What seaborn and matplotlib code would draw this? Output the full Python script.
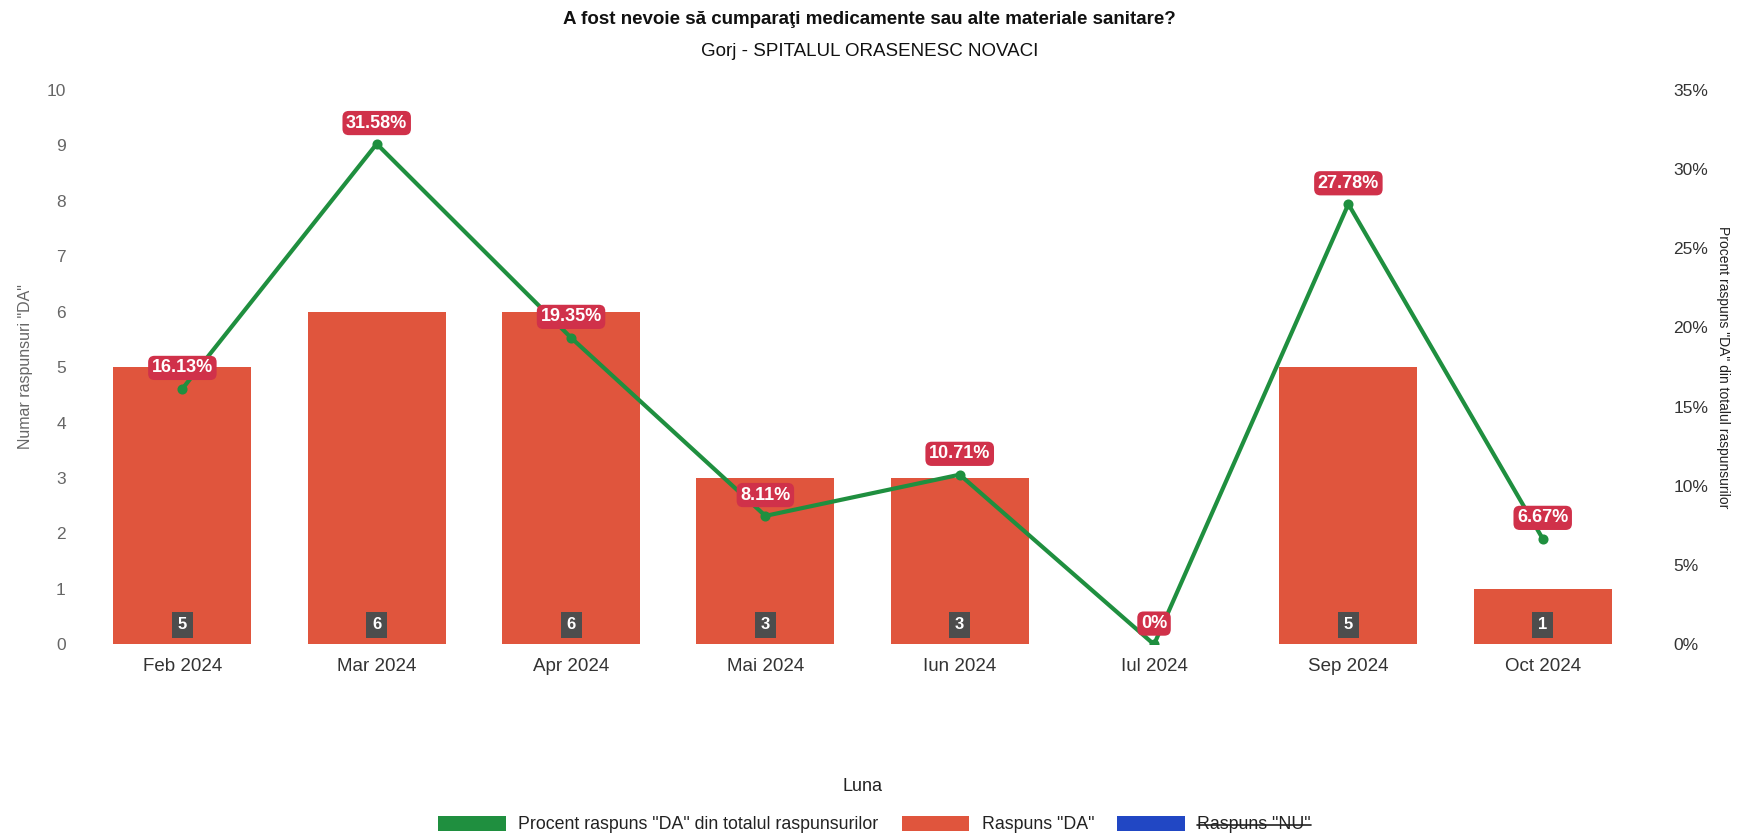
import matplotlib
matplotlib.use("Agg")
import matplotlib.pyplot as plt
from matplotlib.patches import Patch
from matplotlib.lines import Line2D
import seaborn as sns
import pandas as pd

# Monthly survey data
months = ["Feb 2024", "Mar 2024", "Apr 2024", "Mai 2024", "Iun 2024", "Iul 2024", "Sep 2024", "Oct 2024"]
da_counts = [5, 6, 6, 3, 3, 0, 5, 1]
da_percent = [16.13, 31.58, 19.35, 8.11, 10.71, 0.0, 27.78, 6.67]

title = "A fost nevoie să cumparaţi medicamente sau alte materiale sanitare?"
subtitle = "Gorj - SPITALUL ORASENESC NOVACI"
y_left_label = 'Numar raspunsuri "DA"'
y_right_label = 'Procent raspuns "DA" din totalul raspunsurilor'
x_label = "Luna"
legend_labels = ['Procent raspuns "DA" din totalul raspunsurilor', 'Raspuns "DA"', 'Raspuns "NU"']

BAR_COLOR = "#e0553d"
LINE_COLOR = "#1f8f3f"
PCT_BOX = "#d0314a"
COUNT_BOX = "#4d4d4d"
NU_COLOR = "#2147c4"

sns.set_theme(style="white")
plt.rcParams["font.family"] = ["Liberation Sans", "DejaVu Sans"]

df = pd.DataFrame({"luna": months, "da": da_counts, "pct": da_percent})

fig = plt.figure(figsize=(17.39, 8.38), dpi=100)
ax = fig.add_axes([0.049, 0.231, 0.894, 0.662])

sns.barplot(data=df, x="luna", y="da", ax=ax, color=BAR_COLOR, width=0.71,
            saturation=1, edgecolor="none")
ax.set_ylim(0, 10)
ax.set_xlim(-0.5, len(months) - 0.5)
ax.set_yticks(range(0, 11))
ax.tick_params(axis="y", labelsize=12.5, labelcolor="#666666", pad=14, length=0)
ax.tick_params(axis="x", labelsize=13.5, labelcolor="#333333", pad=10, length=0)
ax.set_ylabel(y_left_label, fontsize=11.5, color="#666666", labelpad=10)
ax.set_xlabel(x_label, fontsize=13, color="#222222", labelpad=74)
for s in ax.spines.values():
    s.set_visible(False)

# count badges at the base of each bar
for i, v in enumerate(da_counts):
    if v > 0:
        ax.annotate(str(v), xy=(i, 0), xytext=(0, 14), textcoords="offset points",
                    ha="center", va="center", color="white", fontsize=12, fontweight="bold",
                    bbox=dict(boxstyle="square,pad=0.35", fc=COUNT_BOX, ec="none"))

ax2 = ax.twinx()
sns.pointplot(data=df, x="luna", y="pct", ax=ax2, color=LINE_COLOR,
              markers="o", markersize=5, linewidth=3)
ax2.set_ylim(0, 35)
ax2.set_xlim(-0.5, len(months) - 0.5)
ax2.set_yticks(range(0, 36, 5))
ax2.set_yticklabels([f"{t}%" for t in range(0, 36, 5)])
ax2.tick_params(axis="y", labelsize=12.5, labelcolor="#333333", pad=24, length=0)
ax2.set_ylabel(y_right_label, fontsize=10, color="#222222", rotation=-90, labelpad=16)
ax2.set_xlabel("")
for s in ax2.spines.values():
    s.set_visible(False)

for i, p in enumerate(da_percent):
    ax2.annotate(f"{p:g}%", xy=(i, p), xytext=(0, 15), textcoords="offset points",
                 ha="center", va="center", color="white", fontsize=13, fontweight="bold",
                 bbox=dict(boxstyle="round,pad=0.2,rounding_size=0.35", fc=PCT_BOX, ec="none"))

fig.text(0.5, 0.977, title, ha="center", va="center", fontsize=13.5, fontweight="bold", color="#111111")
fig.text(0.5, 0.938, subtitle, ha="center", va="center", fontsize=13.5, color="#111111")

handles = [Patch(fc=LINE_COLOR, ec="none"), Patch(fc=BAR_COLOR, ec="none"), Patch(fc=NU_COLOR, ec="none")]
leg = fig.legend(handles, legend_labels, loc="center", bbox_to_anchor=(0.503, 0.016), ncol=3,
                 frameon=False, fontsize=12.8, handlelength=3.8, handleheight=0.95,
                 columnspacing=1.3, handletextpad=0.7)
for t in leg.get_texts():
    t.set_color("#222222")

# strike through the hidden series label
fig.canvas.draw()
bb = leg.get_texts()[2].get_window_extent()
ymid = (bb.y0 + bb.y1) / 2
fig.add_artist(Line2D([bb.x0 / fig.bbox.width, bb.x1 / fig.bbox.width],
                      [ymid / fig.bbox.height, ymid / fig.bbox.height],
                      color="#222222", lw=1.2, transform=fig.transFigure))

fig.savefig("out.png", dpi=100, facecolor="white")
